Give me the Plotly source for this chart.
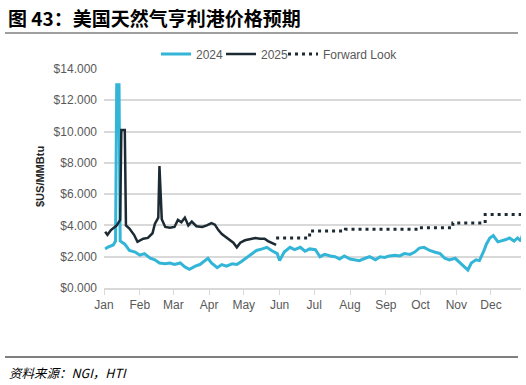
import plotly.graph_objects as go

# ---- data (day of year, value in $US/MMBtu) ----
month_days = [0, 31, 60, 91, 121, 152, 182, 213, 244, 274, 305, 335]
month_labels = ["Jan", "Feb", "Mar", "Apr", "May", "Jun", "Jul", "Aug", "Sep", "Oct", "Nov", "Dec"]
y_ticks = [0, 2, 4, 6, 8, 10, 12, 14]
y_tick_labels = ["$0.000", "$2.000", "$4.000", "$6.000", "$8.000", "$10.000", "$12.000", "$14.000"]

days_2024 = [1, 3, 8, 10, 11, 13, 14, 18, 22, 27, 31, 35, 40, 44, 48, 53, 57, 61, 66, 70,
             74, 79, 83, 87, 90, 93, 98, 102, 106, 111, 115, 119, 124, 128, 132, 137, 141,
             145, 150, 152, 156, 161, 165, 170, 174, 178, 183, 187, 191, 196, 200, 204, 208,
             213, 217, 221, 226, 230, 235, 239, 243, 247, 252, 256, 260, 265, 269, 273, 277,
             282, 286, 291, 295, 299, 304, 308, 312, 315, 318, 322, 325, 329, 331, 334, 337,
             341, 344, 348, 351, 355, 358, 361, 362]
vals_2024 = [2.5, 2.6, 2.75, 3.0, 13.0, 13.0, 3.0, 2.8, 2.4, 2.3, 2.1, 2.2, 1.9, 1.8, 1.6,
             1.55, 1.6, 1.5, 1.6, 1.35, 1.2, 1.4, 1.5, 1.7, 1.9, 1.6, 1.3, 1.5, 1.4, 1.55,
             1.5, 1.7, 1.95, 2.15, 2.4, 2.5, 2.6, 2.4, 2.2, 1.75, 2.3, 2.6, 2.45, 2.6, 2.35,
             2.5, 2.45, 2.0, 2.15, 2.05, 2.0, 1.85, 2.05, 1.85, 1.8, 1.75, 1.9, 2.0, 1.8,
             2.0, 1.95, 2.05, 2.1, 2.05, 2.2, 2.15, 2.3, 2.55, 2.6, 2.4, 2.3, 2.2, 1.9, 1.8,
             1.9, 1.6, 1.35, 1.15, 1.6, 1.8, 1.75, 2.4, 2.8, 3.2, 3.35, 2.95, 3.0, 3.1, 3.2,
             3.0, 3.2, 3.0, 3.35]

days_2025 = [1, 3, 6, 9, 11, 14, 15, 18, 19, 22, 26, 29, 34, 38, 42, 44, 47, 48, 50, 53,
             57, 61, 64, 67, 70, 73, 76, 80, 85, 89, 93, 96, 99, 102, 106, 109, 112, 115,
             118, 122, 126, 131, 135, 139, 142, 145, 149]
vals_2025 = [3.6, 3.4, 3.7, 3.9, 4.0, 4.35, 10.1, 10.1, 4.0, 3.8, 3.4, 2.95, 3.15, 3.2,
             3.5, 4.1, 4.5, 7.8, 4.4, 3.9, 3.85, 3.9, 4.35, 4.2, 4.5, 4.0, 4.25, 3.95, 3.9,
             4.0, 4.15, 4.05, 3.7, 3.45, 3.25, 3.05, 2.9, 2.6, 2.9, 3.05, 3.1, 3.2, 3.15,
             3.15, 3.0, 2.9, 2.75]

days_fwd = [149, 178, 209, 272, 302, 330, 362]
vals_fwd = [3.2, 3.65, 3.75, 3.85, 4.15, 4.7, 4.7]

# ---- layout geometry (page pixels) ----
PAGE_W, PAGE_H = 526, 385
L, R, T, B = 104, 521, 69, 288
X_MAX = 361


def px(x):
    return (x - L) / (R - L)


def py(y):
    return (B - y) / (B - T)


def legend_box(x_left):
    return dict(orientation="h", x=px(x_left), y=py(54), xanchor="left", yanchor="middle",
                font=dict(size=12, color="#595959"), itemwidth=30,
                bgcolor="rgba(0,0,0,0)")


fig = go.Figure()
fig.add_trace(go.Scatter(x=days_2024, y=vals_2024, name="2024", mode="lines",
                         line=dict(color="#33b5d8", width=3), legend="legend"))
fig.add_trace(go.Scatter(x=days_2025, y=vals_2025, name="2025", mode="lines",
                         line=dict(color="#1c2a33", width=2.5), legend="legend2"))
fig.add_trace(go.Scatter(x=days_fwd, y=vals_fwd, name="Forward Look", mode="lines",
                         line=dict(color="#1c2a33", width=3, dash="3px,4px", shape="hv"),
                         legend="legend3"))

fig.update_layout(
    width=PAGE_W, height=PAGE_H,
    margin=dict(l=L, r=PAGE_W - R, t=T, b=PAGE_H - B),
    paper_bgcolor="white", plot_bgcolor="white",
    font=dict(family="Liberation Sans, Arial, sans-serif", color="#595959", size=12),
    showlegend=True,
    hovermode=False,
    legend=legend_box(156),
    legend2=legend_box(221),
    legend3=legend_box(283),
    xaxis=dict(range=[0, X_MAX], tickvals=month_days, ticktext=month_labels,
               showgrid=False, zeroline=False, showline=True, linecolor="#d9d9d9",
               linewidth=1.5, ticks="outside", ticklen=5, tickcolor="#d9d9d9",
               tickfont=dict(size=12, color="#595959")),
    yaxis=dict(range=[0, 14], tickvals=y_ticks, ticktext=y_tick_labels,
               showgrid=True, gridcolor="#d9d9d9", gridwidth=1.5, zeroline=False,
               tickfont=dict(size=12, color="#595959"), ticks="", ticklabelstandoff=6),
)

fig.add_annotation(text="<b>图 43：美国天然气亨利港价格预期</b>", xref="paper", yref="paper",
                   x=px(6), y=py(17), xanchor="left", yanchor="middle", showarrow=False,
                   font=dict(family="Noto Sans CJK SC", size=19, color="#000000"))
fig.add_annotation(text="<i>资料来源：NGI，HTI</i>", xref="paper", yref="paper",
                   x=px(7), y=py(372), xanchor="left", yanchor="middle", showarrow=False,
                   font=dict(family="Noto Sans CJK SC", size=12.5, color="#000000"))
fig.add_annotation(text="<b>$US/MMBtu</b>", xref="paper", yref="paper",
                   x=px(40), y=py(177), xanchor="center", yanchor="middle", showarrow=False,
                   textangle=-90, font=dict(size=11, color="#262626"))

fig.add_shape(type="line", xref="paper", yref="paper", x0=px(5), x1=px(518),
              y0=py(33), y1=py(33), line=dict(color="#7f7f7f", width=1.5))
fig.add_shape(type="line", xref="paper", yref="paper", x0=px(5), x1=px(518),
              y0=py(357), y1=py(357), line=dict(color="#000000", width=1.2))

fig.write_html("out.html", config={"displayModeBar": False},
               post_script="document.body.style.margin='0';document.body.style.overflow='hidden';")
